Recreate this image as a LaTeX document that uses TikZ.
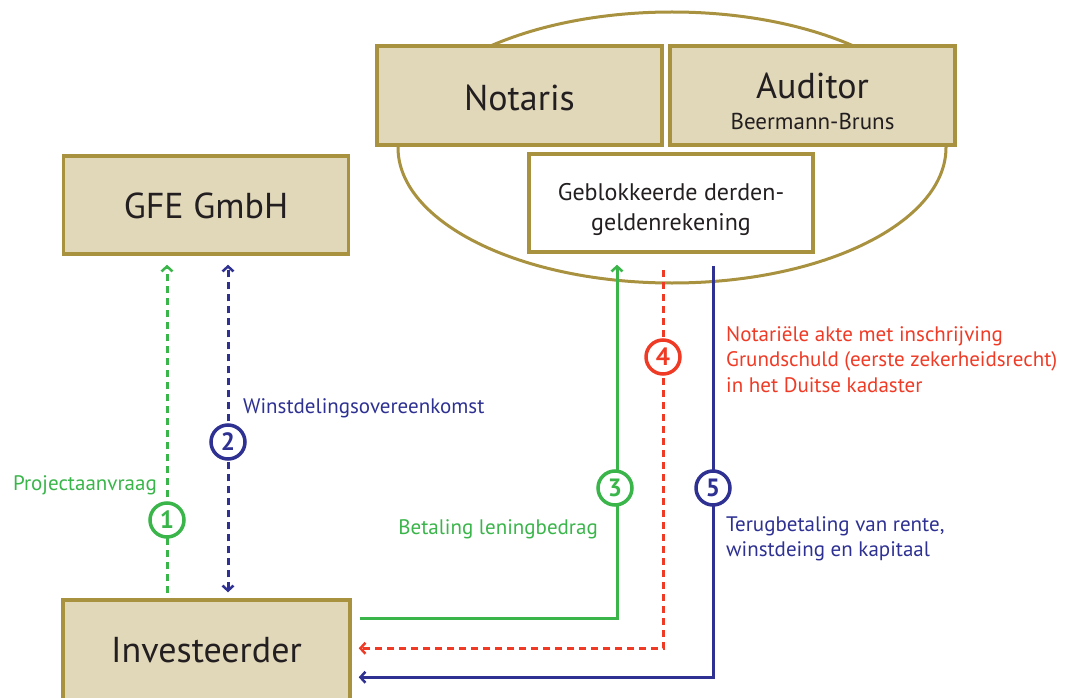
\documentclass[tikz,border=0pt]{standalone}
\usepackage{fontspec}
\setmainfont{PT Sans}
\usetikzlibrary{arrows.meta,calc}
\definecolor{gold}{HTML}{A8913F}
\definecolor{beige}{HTML}{E1D8BA}
\definecolor{cgreen}{HTML}{3AB54A}
\definecolor{cblue}{HTML}{2E3192}
\definecolor{cred}{HTML}{EF3B26}
\definecolor{ink}{HTML}{231F20}
\tikzset{
  box/.style={draw=gold, fill=beige, line width=3.5pt, inner sep=0pt, align=center, text=ink},
  whitebox/.style={draw=gold, fill=white, line width=3.5pt, inner sep=0pt, align=center, text=ink},
  big/.style={font=\fontsize{36}{40}\selectfont, text depth=0pt},
  num/.style={circle, draw=#1, text=#1, fill=white, line width=3.5pt, minimum size=34pt, inner sep=0pt, font=\fontsize{25}{28}\selectfont\bfseries},
  lab/.style={text=#1, font=\fontsize{21}{25.5}\selectfont, inner sep=0pt, align=left},
  dashline/.style={line width=3pt, dash pattern=on 7pt off 5pt},
  solidline/.style={line width=3pt},
  tip/.style={-{Straight Barb[length=5pt,width=11pt,line width=2.5pt]}},
  tips/.style={{Straight Barb[length=5pt,width=11pt,line width=2.5pt]}-{Straight Barb[length=5pt,width=11pt,line width=2.5pt]}}
}
\begin{document}
\begin{tikzpicture}[x=1pt,y=-1pt]
\useasboundingbox (0,0) rectangle (1065,698);
\begin{scope}
\clip (0,0) rectangle (1065,698);
% ellipse behind
\draw[gold, line width=3pt] (672,147.5) ellipse [x radius=274pt, y radius=135.5pt];

\node[box, big, text height=26pt, minimum width=285pt, minimum height=98pt] (gfe) at (206,205) {GFE GmbH};
\node[box, big, text height=20pt, minimum width=287pt, minimum height=104pt] (inv) at (206.5,652) {Investeerder};
\node[box, big, text height=31pt, minimum width=285pt, minimum height=99pt] (not) at (519.5,95.5) {Notaris};
\node[box, minimum width=285pt, minimum height=99pt, font=\fontsize{23}{30}\selectfont, text height=67pt, text depth=0pt] (aud) at (812.5,95.5)
  {{\fontsize{36}{40}\selectfont Auditor}\\Beermann-Bruns};
\node[whitebox, minimum width=284pt, minimum height=98pt, font=\fontsize{24}{30}\selectfont, text height=54pt, text depth=0pt] (geb) at (671,203)
  {Geblokkeerde derden-\\geldenrekening};

% arrows
\draw[cgreen, dashline, tip] ($(inv.north)+(-39.5,-5)$) -- ($(gfe.south)+(-39,9)$);
\draw[cblue, dashline, tips] ($(inv.north)+(21.5,-6)$) -- ($(gfe.south)+(22,9)$);
\draw[cgreen, solidline, tip] ($(inv.north east)+(8,20)$) -| ($(geb.south)+(-54,11)$);
\draw[cred, dashline, tip] ($(geb.south)+(-8,16)$) |- ($(inv.north east)+(7,50)$);
\draw[cblue, solidline, tip] ($(geb.south)+(42,12)$) |- ($(inv.north east)+(7,79)$);

% number circles
\node[num=cgreen] (n1) at (167,520) {1};
\node[num=cblue] (n2) at (228,442) {2};
\node[num=cgreen] (n3) at (615,488) {3};
\node[num=cred] (n4) at (663,357) {4};
\node[num=cblue] (n5) at (713,488) {5};

% labels
\node[lab=cgreen, anchor=base east] (l1) at (157,490) {Projectaanvraag};
\node[lab=cblue, anchor=base west] (l2) at (243,413) {Winstdelingsovereenkomst};
\node[lab=cgreen, anchor=base east] (l3) at (598,534) {Betaling leningbedrag};
\node[lab=cred, anchor=north west] (l4) at (726,326) {Notariële akte met inschrijving\\Grundschuld (eerste zekerheidsrecht)\\in het Duitse kadaster};
\node[lab=cblue, anchor=north west] (l5) at (726,516) {Terugbetaling van rente,\\winstdeing en kapitaal};
\end{scope}
\end{tikzpicture}
\end{document}
